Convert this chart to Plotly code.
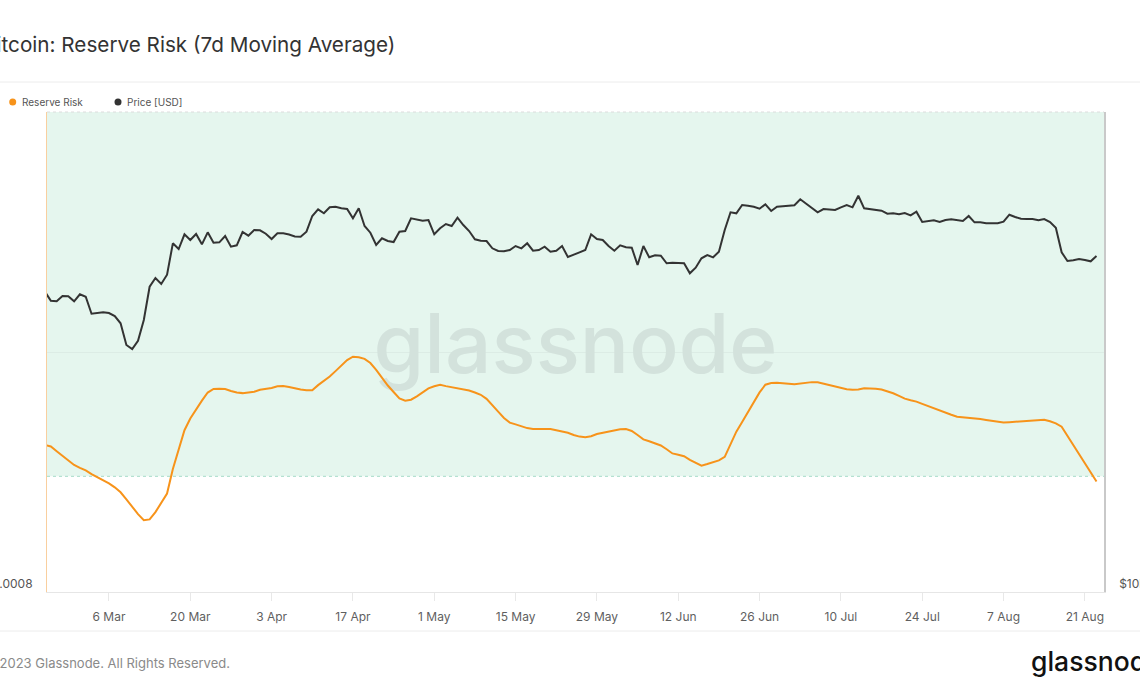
import pandas as pd
import plotly.graph_objects as go

# ---------------- data ----------------
dates = pd.date_range("2023-02-23", "2023-08-23", freq="D")

reserve_risk = [
    0.0010542, 0.0010516, 0.0010434, 0.0010350, 0.0010265, 0.0010196, 0.0010147, 0.0010102, 0.0010040, 0.0009988,
    0.0009938, 0.0009879, 0.0009810, 0.0009724, 0.0009603, 0.0009475, 0.0009347, 0.0009241, 0.0009255, 0.0009381,
    0.0009532, 0.0009703, 0.0010127, 0.0010472, 0.0010798, 0.0011000, 0.0011159, 0.0011309, 0.0011449, 0.0011510,
    0.0011513, 0.0011510, 0.0011477, 0.0011449, 0.0011439, 0.0011449, 0.0011463, 0.0011496, 0.0011513, 0.0011527,
    0.0011557, 0.0011560, 0.0011546, 0.0011522, 0.0011500, 0.0011489, 0.0011487, 0.0011577, 0.0011645, 0.0011726,
    0.0011819, 0.0011918, 0.0012010, 0.0012068, 0.0012060, 0.0012032, 0.0011959, 0.0011842, 0.0011697, 0.0011570,
    0.0011458, 0.0011347, 0.0011309, 0.0011325, 0.0011382, 0.0011446, 0.0011520, 0.0011558, 0.0011584, 0.0011560,
    0.0011544, 0.0011527, 0.0011508, 0.0011484, 0.0011449, 0.0011410, 0.0011340, 0.0011238, 0.0011119, 0.0011010,
    0.0010929, 0.0010898, 0.0010867, 0.0010834, 0.0010820, 0.0010823, 0.0010822, 0.0010818, 0.0010798, 0.0010775,
    0.0010754, 0.0010716, 0.0010687, 0.0010678, 0.0010694, 0.0010732, 0.0010753, 0.0010773, 0.0010798, 0.0010813,
    0.0010817, 0.0010785, 0.0010715, 0.0010640, 0.0010607, 0.0010571, 0.0010533, 0.0010469, 0.0010396, 0.0010374,
    0.0010348, 0.0010284, 0.0010230, 0.0010185, 0.0010213, 0.0010243, 0.0010275, 0.0010336, 0.0010569, 0.0010772,
    0.0010939, 0.0011109, 0.0011278, 0.0011451, 0.0011584, 0.0011612, 0.0011617, 0.0011614, 0.0011602, 0.0011593,
    0.0011608, 0.0011626, 0.0011629, 0.0011627, 0.0011602, 0.0011579, 0.0011565, 0.0011536, 0.0011505, 0.0011498,
    0.0011500, 0.0011524, 0.0011522, 0.0011515, 0.0011501, 0.0011470, 0.0011436, 0.0011391, 0.0011344, 0.0011316,
    0.0011292, 0.0011254, 0.0011214, 0.0011173, 0.0011136, 0.0011097, 0.0011064, 0.0011031, 0.0011024, 0.0011017,
    0.0011007, 0.0010991, 0.0010976, 0.0010958, 0.0010941, 0.0010929, 0.0010936, 0.0010941, 0.0010950, 0.0010958,
    0.0010965, 0.0010972, 0.0010979, 0.0010953, 0.0010915, 0.0010858, 0.0010699, 0.0010542, 0.0010383, 0.0010227,
    0.0010071, 0.0009912,
]

price_usd = [
    23850, 23249, 23209, 23568, 23548, 23209, 23684, 23520, 22390, 22416,
    22481, 22436, 22242, 21777, 20450, 20214, 20706, 21986, 24212, 24830,
    24402, 25068, 27455, 27005, 28180, 27718, 28204, 27375, 28343, 27503,
    27534, 28042, 27186, 27296, 28368, 28066, 28533, 28508, 28229, 27799,
    28261, 28261, 28164, 28001, 27985, 28393, 29714, 30296, 29947, 30472,
    30525, 30384, 30322, 29516, 30384, 28865, 28311, 27320, 27855, 27638,
    27558, 28393, 28450, 29516, 29431, 29312, 29371, 28180, 28674, 29033,
    28865, 29568, 28949, 28450, 27775, 27662, 27638, 27060, 26849, 26826,
    26927, 27241, 27060, 27455, 26872, 26927, 27186, 26795, 26872, 27241,
    26387, 26540, 26748, 26927, 28180, 27799, 27718, 27241, 26872, 27296,
    27138, 27107, 25782, 27241, 26364, 26517, 26486, 25910, 25955, 25932,
    25910, 25170, 25582, 26287, 26540, 26364, 26795, 28533, 30034, 29947,
    30675, 30614, 30525, 30348, 30738, 30147, 30525, 30560, 30614, 30649,
    31186, 30791, 30472, 30034, 30322, 30296, 30235, 30472, 30675, 30472,
    31513, 30384, 30322, 30296, 30173, 29912, 29947, 29860, 29973, 29774,
    30086, 29202, 29261, 29346, 29202, 29371, 29431, 29346, 29287, 29714,
    29176, 29176, 29092, 29092, 29092, 29227, 29826, 29628, 29482, 29457,
    29457, 29346, 29457, 29202, 28723, 26748, 26083, 26136, 26234, 26158,
    26060, 26463,
]

rr_threshold = 0.001
rr_tick_vals = [0.0008]
rr_tick_text = ["0.0008"]
price_tick_vals = [10000, 20000]
price_tick_text = ["$10k", ""]

# ---------------- layout helpers (pixels -> paper) ----------------
W, H = 1140, 694
PX0, PX1, PY0, PY1 = 47, 1104, 112, 592   # plot area in pixels
L, R, T, B = PX0, W - PX1, PY0, H - PY1
PW, PH = PX1 - PX0, PY1 - PY0


def xp(px):
    return (px - PX0) / PW


def yp(py):
    return (PY1 - py) / PH


x_range = ["2023-02-23 08:00", "2023-08-24 07:00"]
rr_range = [0.0008, 0.00163]
price_range_log = [4, 4.6038]
x_mid = pd.Timestamp(x_range[0]) + (pd.Timestamp(x_range[1]) - pd.Timestamp(x_range[0])) / 2
rr_mid = (rr_range[0] + rr_range[1]) / 2

ORANGE = "#f7931a"
DARK = "#333333"

fig = go.Figure()

# watermark (drawn first so the lines sit on top)
fig.add_trace(go.Scatter(
    x=[x_mid], y=[rr_mid], mode="text", text=["glassnode"],
    textfont=dict(size=82, color="#d3e2dc", family="Inter", weight=500),
    hoverinfo="skip", showlegend=False, yaxis="y",
))

fig.add_trace(go.Scatter(
    x=dates, y=reserve_risk, mode="lines", name="Reserve Risk",
    line=dict(color=ORANGE, width=2), yaxis="y", showlegend=False,
))
fig.add_trace(go.Scatter(
    x=dates, y=price_usd, mode="lines", name="Price [USD]",
    line=dict(color=DARK, width=2), yaxis="y2", showlegend=False,
))

shapes = [
    dict(type="rect", xref="paper", yref="y", x0=0, x1=1, y0=rr_threshold, y1=rr_range[1],
         fillcolor="#e5f6ee", line=dict(width=0), layer="below"),
    dict(type="line", xref="paper", yref="y", x0=0, x1=1, y0=rr_threshold, y1=rr_threshold,
         line=dict(color="#a6dbc8", width=1, dash="dot"), layer="below"),
    dict(type="line", xref="paper", yref="paper", x0=0, x1=1, y0=1, y1=1,
         line=dict(color="#dcdcdc", width=1, dash="dot")),
    dict(type="line", xref="paper", yref="paper", x0=xp(0), x1=xp(W), y0=yp(82), y1=yp(82),
         line=dict(color="#ececec", width=1)),
    dict(type="line", xref="paper", yref="paper", x0=xp(0), x1=xp(W), y0=yp(631), y1=yp(631),
         line=dict(color="#ececec", width=1)),
    dict(type="circle", xref="paper", yref="paper", x0=xp(9.2), x1=xp(16.2), y0=yp(105.5), y1=yp(98.5),
         fillcolor=ORANGE, line=dict(width=0)),
    dict(type="circle", xref="paper", yref="paper", x0=xp(114.5), x1=xp(121.5), y0=yp(105.5), y1=yp(98.5),
         fillcolor=DARK, line=dict(width=0)),
]

annotations = [
    dict(text="Bitcoin: Reserve Risk (7d Moving Average)", xref="paper", yref="paper",
         x=xp(-19), y=yp(44), xanchor="left", yanchor="middle", showarrow=False,
         font=dict(family="Inter", size=20.7, color="#333333")),
    dict(text="Reserve Risk", xref="paper", yref="paper", x=xp(20), y=yp(102),
         xanchor="left", yanchor="middle", showarrow=False,
         font=dict(family="Inter", size=10, color="#555555")),
    dict(text="Price [USD]", xref="paper", yref="paper", x=xp(125), y=yp(102),
         xanchor="left", yanchor="middle", showarrow=False,
         font=dict(family="Inter", size=10, color="#555555")),
    dict(text="© 2023 Glassnode. All Rights Reserved.", xref="paper", yref="paper",
         x=xp(-18), y=yp(663), xanchor="left", yanchor="middle", showarrow=False,
         font=dict(family="Inter", size=13, color="#8a8a8a")),
    dict(text="glassnode", xref="paper", yref="paper", x=xp(1029), y=yp(661),
         xanchor="left", yanchor="middle", showarrow=False,
         font=dict(family="Inter", size=26.5, color="#111111", weight=500)),
]

fig.update_layout(
    width=W, height=H, autosize=False,
    margin=dict(l=L, r=R, t=T, b=B, pad=0),
    paper_bgcolor="white", plot_bgcolor="white",
    font=dict(family="Inter", color="#555555"),
    showlegend=False,
    shapes=shapes, annotations=annotations,
    xaxis=dict(
        type="date", range=x_range, tick0="2023-03-06", dtick=14 * 86400000,
        tickformat="%-d %b", ticks="outside", ticklen=8, tickcolor="#e8e8e8",
        showline=True, linecolor="#e6e6e6", linewidth=1, showgrid=False, zeroline=False,
        tickfont=dict(size=12, color="#5f5f5f"), ticklabelstandoff=6, automargin=False,
    ),
    yaxis=dict(
        range=rr_range, tickvals=rr_tick_vals, ticktext=rr_tick_text,
        showgrid=False, zeroline=False, showline=True, linecolor="#f9cf9f", linewidth=1,
        ticks="", ticklabelposition="outside top", ticklabelstandoff=11,
        tickfont=dict(size=12, color="#555555"), automargin=False,
    ),
    yaxis2=dict(
        overlaying="y", side="right", type="log", range=price_range_log,
        tickvals=price_tick_vals, ticktext=price_tick_text,
        showgrid=True, gridcolor="rgba(120,130,125,0.08)", gridwidth=1, zeroline=False,
        showline=True, linecolor="#c9c9c9", linewidth=1.5,
        ticks="", ticklabelposition="outside top", ticklabelstandoff=11,
        tickfont=dict(size=12, color="#555555"), automargin=False,
    ),
)

fig.write_html(
    "out.html",
    config={"displayModeBar": False},
    post_script="document.body.style.margin='0';document.body.style.padding='0';"
                "document.body.style.overflow='hidden';",
)
